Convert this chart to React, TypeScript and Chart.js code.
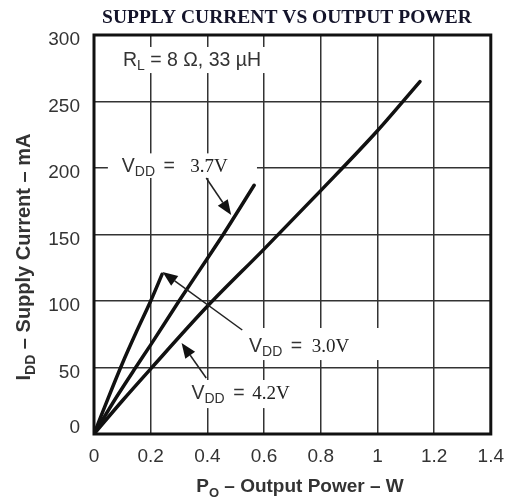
import React, { useEffect, useRef } from "react";
import { Chart, registerables } from "chart.js";

Chart.register(...registerables);

// ---- Data ----
const xTickValues = [0, 0.2, 0.4, 0.6, 0.8, 1, 1.2, 1.4];
const yTickValues = [0, 50, 100, 150, 200, 250, 300];

const v30Power = [0, 0.05, 0.1, 0.15, 0.2, 0.24];
const v30Current = [0, 27, 53, 77, 100, 120];

const v37Power = [0, 0.08, 0.147, 0.2, 0.3, 0.4, 0.456, 0.565];
const v37Current = [0, 28, 50, 67, 100, 132, 150, 187];

const v42Power = [0, 0.1, 0.2, 0.4, 0.6, 0.8, 1.0, 1.15];
const v42Current = [0, 25, 49, 96, 139, 183, 228, 265];

const seriesNames = ["3.0V", "3.7V", "4.2V"];

// ---- Annotation config (data coordinates) ----
const vddLabels = [
  { value: "3.7V", x: 0.098, y: 197, valueX: 0.34, box: [0.049, 0.575, 211, 192.5], arrow: [0.396, 192.5, 0.484, 164.7] },
  { value: "3.0V", x: 0.547, y: 61.7, valueX: 0.768, box: [0.53, 1.02, 79.7, 55.6], arrow: [0.523, 78.2, 0.242, 121.8] },
  { value: "4.2V", x: 0.344, y: 26.3, valueX: 0.558, box: [0.33, 0.72, 40.6, 19.5], arrow: [0.396, 42.1, 0.309, 68.4] },
];
const rlLabel = { x: 0.102, y: 276.7, box: [0.084, 0.604, 291, 271.4] };

type Part = { t: string; f: string; dy?: number; dx?: number; c?: string };

function richWidth(ctx: CanvasRenderingContext2D, parts: Part[]) {
  let w = 0;
  for (const p of parts) {
    ctx.font = p.f;
    w += ctx.measureText(p.t).width + (p.dx || 0);
  }
  return w;
}

function drawRich(ctx: CanvasRenderingContext2D, parts: Part[], x: number, y: number, align: "left" | "center" = "left") {
  const w = richWidth(ctx, parts);
  let cx = align === "center" ? x - w / 2 : x;
  ctx.textAlign = "left";
  ctx.textBaseline = "alphabetic";
  for (const p of parts) {
    ctx.font = p.f;
    ctx.fillStyle = p.c || "#222";
    cx += p.dx || 0;
    ctx.fillText(p.t, cx, y + (p.dy || 0));
    cx += ctx.measureText(p.t).width;
  }
}

const SANS = "'Liberation Sans', Arial, sans-serif";
const SERIF = "'Liberation Serif', 'Times New Roman', serif";

const annotPlugin = {
  id: "annot",
  beforeDatasetsDraw(chart: any) {
    const ctx: CanvasRenderingContext2D = chart.ctx;
    const xs = chart.scales.x;
    const ys = chart.scales.y;
    ctx.save();
    ctx.fillStyle = "#ffffff";
    const boxes = [rlLabel.box, ...vddLabels.map((l) => l.box)];
    for (const b of boxes) {
      const x1 = xs.getPixelForValue(b[0]);
      const x2 = xs.getPixelForValue(b[1]);
      const y1 = ys.getPixelForValue(b[2]);
      const y2 = ys.getPixelForValue(b[3]);
      ctx.fillRect(x1, y1, x2 - x1, y2 - y1);
    }
    ctx.restore();
  },
  afterDatasetsDraw(chart: any) {
    const ctx: CanvasRenderingContext2D = chart.ctx;
    const xs = chart.scales.x;
    const ys = chart.scales.y;
    const a = chart.chartArea;
    ctx.save();

    // frame
    ctx.strokeStyle = "#111";
    ctx.lineWidth = 3;
    ctx.strokeRect(a.left, a.top, a.right - a.left, a.bottom - a.top);

    // RL label
    drawRich(
      ctx,
      [
        { t: "R", f: `19.5px ${SANS}`, c: "#333" },
        { t: "L", f: `14px ${SANS}`, dy: 4, c: "#333" },
        { t: " = 8 Ω, 33 µH", f: `19.5px ${SANS}`, c: "#333" },
      ],
      xs.getPixelForValue(rlLabel.x),
      ys.getPixelForValue(rlLabel.y)
    );

    // VDD labels + arrows
    for (const l of vddLabels) {
      const bx = xs.getPixelForValue(l.x);
      const by = ys.getPixelForValue(l.y);
      drawRich(
        ctx,
        [
          { t: "V", f: `19.5px ${SANS}`, c: "#333" },
          { t: "DD", f: `14px ${SANS}`, dy: 4, c: "#333" },
          { t: " =", f: `19.5px ${SANS}`, dx: 3, c: "#333" },
        ],
        bx,
        by
      );
      drawRich(ctx, [{ t: l.value, f: `19px ${SERIF}`, c: "#222" }], xs.getPixelForValue(l.valueX), by);

      const tx = xs.getPixelForValue(l.arrow[0]);
      const ty = ys.getPixelForValue(l.arrow[1]);
      const hx = xs.getPixelForValue(l.arrow[2]);
      const hy = ys.getPixelForValue(l.arrow[3]);
      const ang = Math.atan2(hy - ty, hx - tx);
      const headLen = 15;
      const headW = 6;
      const bxh = hx - headLen * Math.cos(ang);
      const byh = hy - headLen * Math.sin(ang);
      ctx.strokeStyle = "#222";
      ctx.lineWidth = 1.5;
      ctx.beginPath();
      ctx.moveTo(tx, ty);
      ctx.lineTo(bxh, byh);
      ctx.stroke();
      ctx.fillStyle = "#111";
      ctx.beginPath();
      ctx.moveTo(hx, hy);
      ctx.lineTo(bxh + headW * Math.sin(ang), byh - headW * Math.cos(ang));
      ctx.lineTo(bxh - headW * Math.sin(ang), byh + headW * Math.cos(ang));
      ctx.closePath();
      ctx.fill();
    }
    ctx.restore();
  },
  afterDraw(chart: any) {
    const ctx: CanvasRenderingContext2D = chart.ctx;
    ctx.save();
    // Title
    ctx.font = `bold 19.5px ${SERIF}`;
    ctx.fillStyle = "#14142a";
    ctx.textAlign = "center";
    ctx.textBaseline = "alphabetic";
    ctx.fillText("SUPPLY CURRENT VS OUTPUT POWER", 287, 23);

    // X axis title
    drawRich(
      ctx,
      [
        { t: "P", f: `bold 19px ${SANS}`, c: "#333" },
        { t: "O", f: `bold 13px ${SANS}`, dy: 5, c: "#333" },
        { t: " – Output Power – W", f: `bold 19px ${SANS}`, c: "#333" },
      ],
      300,
      492,
      "center"
    );

    // Y axis title
    ctx.translate(30, 257);
    ctx.rotate(-Math.PI / 2);
    drawRich(
      ctx,
      [
        { t: "I", f: `bold 20px ${SANS}`, c: "#333" },
        { t: "DD", f: `bold 14px ${SANS}`, dy: 5, c: "#333" },
        { t: " – Supply Current – mA", f: `bold 20px ${SANS}`, c: "#333" },
      ],
      0,
      0,
      "center"
    );
    ctx.restore();
  },
};

function toPoints(xs: number[], ys: number[]) {
  return xs.map((x, i) => ({ x, y: ys[i] }));
}

export default function App() {
  const ref = useRef<HTMLCanvasElement | null>(null);

  useEffect(() => {
    if (!ref.current) return;
    const lineStyle = {
      borderColor: "#111",
      borderWidth: 3.5,
      pointRadius: 0,
      fill: false,
      cubicInterpolationMode: "monotone" as const,
      borderCapStyle: "round" as const,
      borderJoinStyle: "round" as const,
    };
    const chart = new Chart(ref.current, {
      type: "line",
      data: {
        datasets: [
          { label: seriesNames[0], data: toPoints(v30Power, v30Current), ...lineStyle },
          { label: seriesNames[1], data: toPoints(v37Power, v37Current), ...lineStyle },
          { label: seriesNames[2], data: toPoints(v42Power, v42Current), ...lineStyle },
        ],
      },
      options: {
        responsive: false,
        animation: false,
        devicePixelRatio: 1,
        layout: { padding: { top: 35, right: 22, left: 0, bottom: 0 } },
        plugins: {
          legend: { display: false },
          tooltip: { enabled: false },
          title: { display: false },
        },
        scales: {
          x: {
            type: "linear",
            min: xTickValues[0],
            max: xTickValues[xTickValues.length - 1],
            afterFit: (s: any) => {
              s.height = 64;
            },
            afterBuildTicks: (s: any) => {
              s.ticks = xTickValues.map((v) => ({ value: v }));
            },
            grid: { color: "#333", lineWidth: 1.5, drawTicks: false },
            border: { display: false },
            ticks: {
              padding: 11,
              color: "#333",
              maxRotation: 0,
              autoSkip: false,
              font: { family: SANS, size: 19 },
              callback: (v: any) => String(Math.round(Number(v) * 10) / 10),
            },
          },
          y: {
            type: "linear",
            min: yTickValues[0],
            max: yTickValues[yTickValues.length - 1],
            afterFit: (s: any) => {
              s.width = 94;
            },
            afterBuildTicks: (s: any) => {
              s.ticks = yTickValues.map((v) => ({ value: v }));
            },
            grid: { color: "#333", lineWidth: 1.5, drawTicks: false },
            border: { display: false },
            ticks: {
              padding: 14,
              labelOffset: 5,
              color: "#333",
              autoSkip: false,
              font: { family: SANS, size: 19 },
              callback: (v: any) => (Number(v) === 0 ? ["0", ""] : String(v)),
            },
          },
        },
      } as any,
      plugins: [annotPlugin],
    });
    return () => chart.destroy();
  }, []);

  return (
    <div style={{ position: "absolute", left: 0, top: 0, width: 515, height: 498, background: "#fff" }}>
      <canvas ref={ref} width={515} height={498} style={{ display: "block", width: 515, height: 498 }} />
    </div>
  );
}
